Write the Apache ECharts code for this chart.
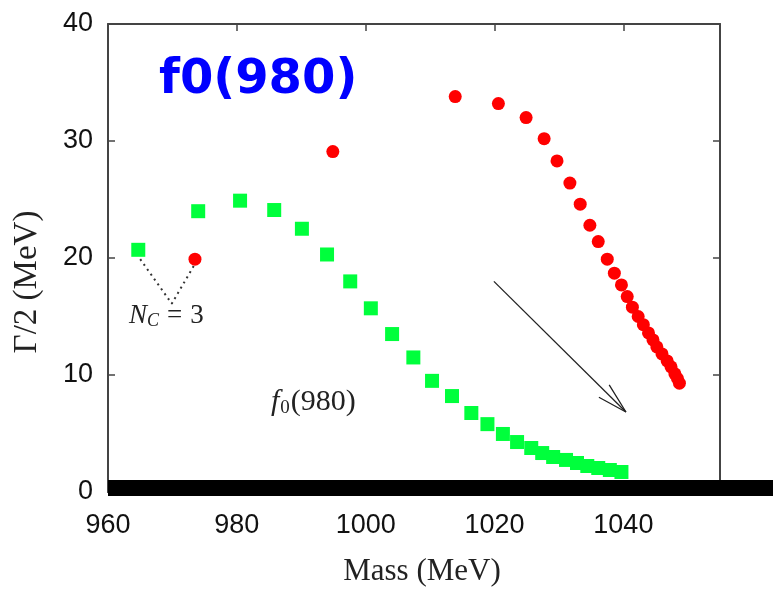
<!DOCTYPE html>
<html>
<head>
<meta charset="utf-8">
<script src="https://cdn.jsdelivr.net/npm/echarts@6/dist/echarts.min.js"></script>
<style>
  html, body { margin: 0; padding: 0; background: #fff; }
  #chart { width: 773px; height: 589px; }
</style>
</head>
<body>
<div id="chart"></div>
<script>
// Pole trajectory of the f0(980) as N_C grows: mass vs half-width (MeV)
const massGreen  = [964.7, 974.0, 980.5, 985.8, 990.1, 994.0, 997.6, 1000.8, 1004.1, 1007.4,
                    1010.3, 1013.4, 1016.4, 1018.9, 1021.3, 1023.5, 1025.7, 1027.4, 1029.1,
                    1031.1, 1032.8, 1034.4, 1036.1, 1037.9, 1039.7];
const widthGreen = [20.7, 24.0, 24.9, 24.1, 22.5, 20.3, 18.0, 15.7, 13.5, 11.5,
                    9.5, 8.2, 6.75, 5.8, 4.96, 4.27, 3.76, 3.33, 2.99,
                    2.74, 2.48, 2.22, 2.05, 1.88, 1.71];

const massRed  = [973.5, 994.9, 1013.9, 1020.6, 1024.9, 1027.7, 1029.7, 1031.7, 1033.3, 1034.8,
                  1036.1, 1037.5, 1038.6, 1039.7, 1040.6, 1041.4, 1042.3, 1043.1, 1043.9,
                  1044.6, 1045.2, 1046.0, 1046.8, 1047.4, 1048.0, 1048.4, 1048.7];
const widthRed = [19.9, 29.1, 33.8, 33.2, 32.0, 30.2, 28.3, 26.4, 24.6, 22.8,
                  21.4, 19.9, 18.7, 17.7, 16.7, 15.8, 15.0, 14.3, 13.6,
                  13.0, 12.4, 11.8, 11.2, 10.7, 10.1, 9.7, 9.3];

// dotted guide from the two N_C = 3 points to their label
const guideMass  = [965.0, 969.9, 973.4];
const guideWidth = [19.9, 16.1, 19.4];

// arrow showing the direction of increasing N_C
const arrowMass  = [1019.9, 1040.4];
const arrowWidth = [18.0, 6.84];
const headMass   = [1036.2, 1040.4, 1037.8];
const headWidth  = [8.1, 6.84, 9.15];

const xRange = [960, 1055];
const yRange = [0, 40];

const zip = (a, b) => a.map((v, i) => [v, b[i]]);

const chart = echarts.init(document.getElementById('chart'));

const frame = { show: true, onZero: false, lineStyle: { color: '#444', width: 2 } };
const tickIn = { show: true, inside: true, length: 7, lineStyle: { color: '#444', width: 1.5 } };
const tickFont = { fontFamily: 'Liberation Sans', fontSize: 27, color: '#111' };
const serif = 'Liberation Serif';

chart.setOption({
  animation: false,
  backgroundColor: '#fff',
  grid: { left: 108, right: 53, top: 24, bottom: 97, containLabel: false, outerBoundsMode: 'none' },
  xAxis: [
    {
      type: 'value', min: xRange[0], max: xRange[1], interval: 20,
      position: 'bottom',
      axisLine: frame, axisTick: tickIn, splitLine: { show: false },
      axisLabel: Object.assign({ margin: 20, showMaxLabel: false, formatter: v => String(v) }, tickFont)
    },
    {
      type: 'value', min: xRange[0], max: xRange[1], interval: 20,
      position: 'top',
      axisLine: frame, axisTick: tickIn, splitLine: { show: false },
      axisLabel: { show: false }
    }
  ],
  yAxis: [
    {
      type: 'value', min: yRange[0], max: yRange[1], interval: 10,
      position: 'left',
      axisLine: frame, axisTick: tickIn, splitLine: { show: false },
      axisLabel: Object.assign({ margin: 15, formatter: v => String(v) }, tickFont)
    },
    {
      type: 'value', min: yRange[0], max: yRange[1], interval: 10,
      position: 'right',
      axisLine: frame, axisTick: tickIn, splitLine: { show: false },
      axisLabel: { show: false }
    }
  ],
  series: [
    {
      type: 'line', data: zip(guideMass, guideWidth), symbol: 'none',
      lineStyle: { color: '#333', width: 2, type: [2, 4] }, z: 1
    },
    {
      type: 'line', data: zip(arrowMass, arrowWidth), symbol: 'none',
      lineStyle: { color: '#222', width: 1.3 }, z: 1
    },
    {
      type: 'line', data: zip(headMass, headWidth), symbol: 'none',
      lineStyle: { color: '#222', width: 1.3 }, z: 1
    },
    {
      type: 'scatter', data: zip(massGreen, widthGreen),
      symbol: 'rect', symbolSize: 14,
      itemStyle: { color: '#00ff3c', opacity: 1 }, z: 3
    },
    {
      type: 'scatter', data: zip(massRed, widthRed),
      symbol: 'circle', symbolSize: 13,
      itemStyle: { color: '#ff0000', opacity: 1 }, z: 3
    }
  ],
  graphic: [
    // heavy bar along the bottom edge
    { type: 'rect', left: 108, top: 480, shape: { width: 665, height: 16 },
      style: { fill: '#000' }, z: 100 },
    { type: 'text', left: 159, top: 57, z: 100,
      style: { text: 'f0(980)', fill: '#0000ff', font: 'bold 48px "DejaVu Sans"' } },
    // axis titles
    { type: 'text', x: 422, y: 572, z: 100,
      style: { text: 'Mass (MeV)', fill: '#222', font: '31px "Liberation Serif"',
               align: 'center', verticalAlign: 'middle' } },
    { type: 'text', x: 27, y: 282, rotation: Math.PI / 2, z: 100,
      style: { text: 'Γ/2 (MeV)', fill: '#222', font: '33px "Liberation Serif"',
               align: 'center', verticalAlign: 'middle' } },
    // annotations
    { type: 'text', left: 129, top: 302, z: 100,
      style: {
        text: '{n|N}{s|C}{e|=}{d|3}',
        rich: {
          n: { fontFamily: serif, fontStyle: 'italic', fontSize: 27, fill: '#222' },
          s: { fontFamily: serif, fontStyle: 'italic', fontSize: 18, fill: '#222', padding: [12, 0, 0, 0] },
          e: { fontFamily: serif, fontSize: 27, fill: '#222', padding: [0, 8, 0, 8] },
          d: { fontFamily: serif, fontSize: 27, fill: '#222' }
        }
      } },
    { type: 'text', left: 271, top: 387, z: 100,
      style: {
        text: '{n|f}{s|0}{e|(980)}',
        rich: {
          n: { fontFamily: serif, fontStyle: 'italic', fontSize: 30, fill: '#222' },
          s: { fontFamily: serif, fontSize: 19, fill: '#222', padding: [13, 1, 0, 1] },
          e: { fontFamily: serif, fontSize: 30, fill: '#222' }
        }
      } }
  ]
});
</script>
</body>
</html>
